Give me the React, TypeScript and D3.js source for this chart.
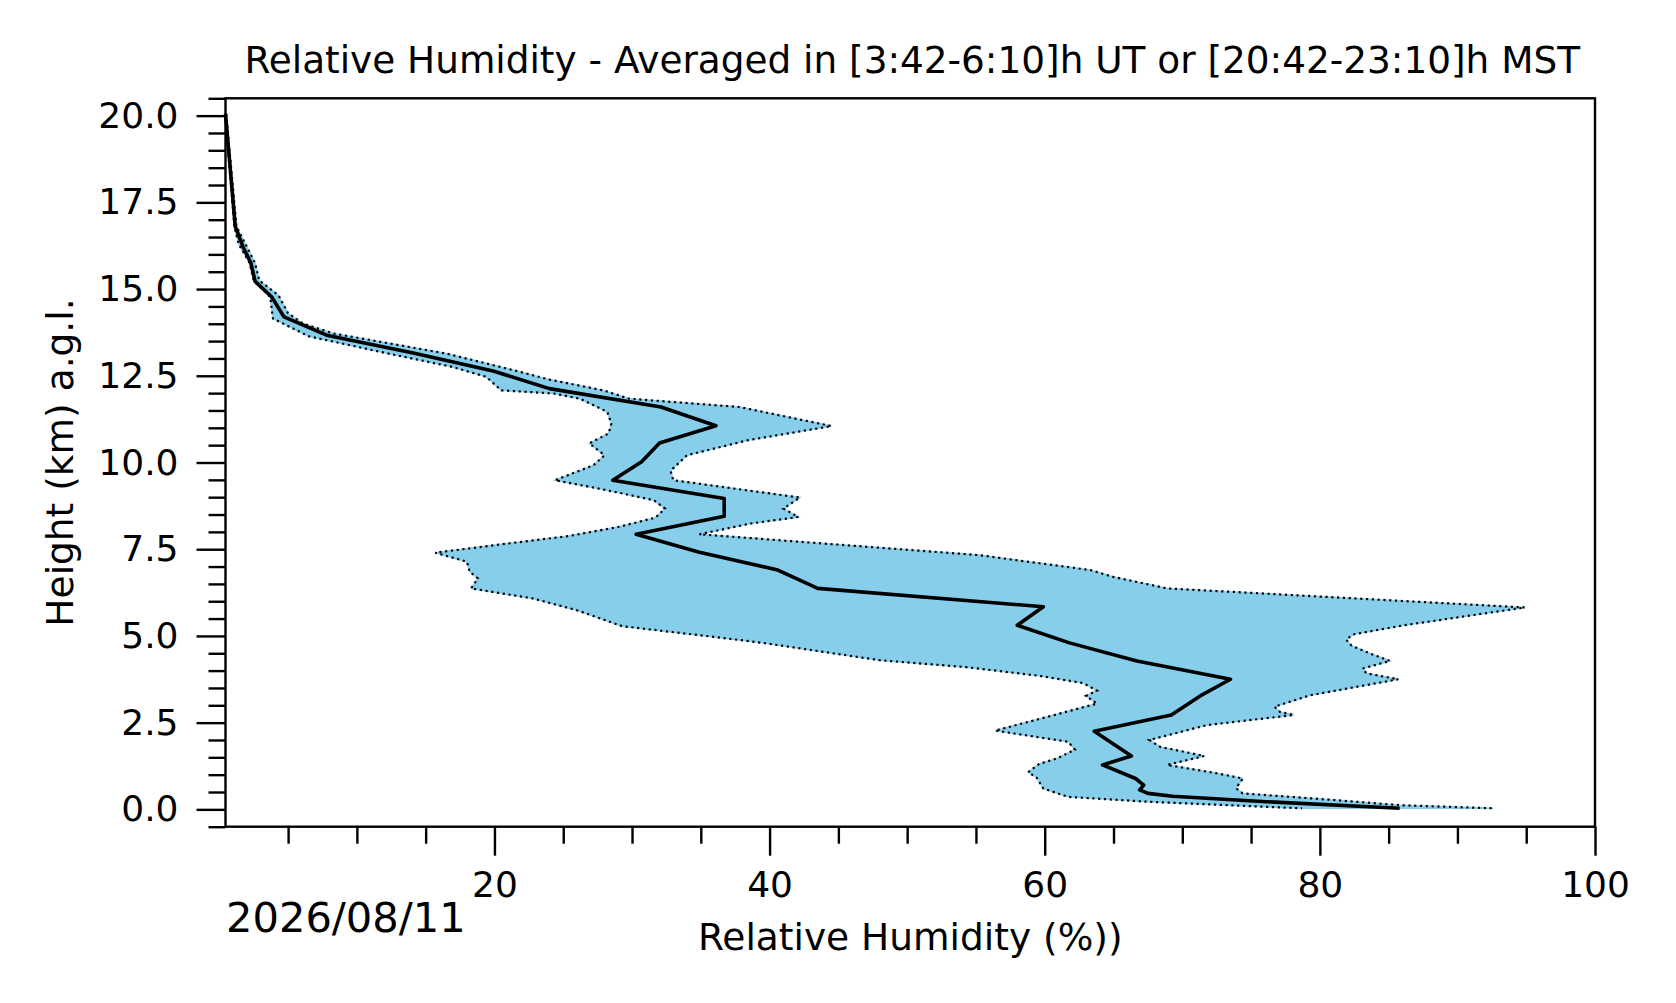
import { useEffect, useRef } from 'react';
import * as d3 from 'd3';

// Mean RH profile: [height km, RH %]
const meanProfile: [number, number][] = [
  [20.05, 0.45], [16.8, 1.16], [16.2, 1.74], [15.75, 2.3], [15.22, 2.6],
  [14.78, 3.8], [14.2, 4.7], [13.67, 7.8], [13.16, 14.1], [12.64, 19.9],
  [12.13, 24.0], [11.6, 32.1], [11.06, 36.1], [10.56, 32.0], [10.02, 30.7],
  [9.49, 28.6], [8.96, 36.7], [8.45, 36.7], [7.93, 30.3], [7.41, 34.9],
  [6.9, 40.6], [6.37, 43.5], [5.84, 59.9], [5.31, 58.0], [4.8, 61.8],
  [4.28, 66.7], [3.75, 73.5], [3.27, 71.3], [2.72, 69.2], [2.25, 63.6],
  [1.54, 66.3], [1.28, 64.2], [0.89, 66.6], [0.7, 67.2], [0.56, 66.9],
  [0.46, 67.5], [0.38, 69.3], [0.22, 76.1], [0.03, 85.8],
];

// mean - std envelope edge
const lowerEdge: [number, number][] = [
  [20.05, 0.42], [16.8, 1.1], [16.3, 1.4], [15.75, 2.2], [15.25, 2.5],
  [14.77, 3.7], [14.15, 3.9], [13.64, 6.5], [13.19, 11.7], [12.75, 17.0],
  [12.47, 19.4], [12.08, 20.5], [11.99, 24.3], [11.84, 26.2], [11.46, 28.2],
  [11.12, 28.5], [10.84, 28.3], [10.55, 26.9], [10.21, 28.0], [9.92, 27.2],
  [9.49, 24.4], [9.2, 28.2], [8.91, 31.6], [8.67, 32.4], [8.41, 31.7],
  [8.14, 29.0], [7.88, 25.4], [7.64, 20.5], [7.4, 15.7], [7.14, 18.0],
  [6.85, 18.2], [6.66, 18.8], [6.37, 18.3], [6.08, 22.8], [5.74, 26.0],
  [5.28, 29.3], [4.97, 36.0], [4.8, 39.5], [4.3, 48.0], [4.1, 54.3],
  [3.85, 59.6], [3.64, 62.8], [3.42, 63.8], [3.27, 63.0], [3.05, 63.8],
  [2.72, 60.7], [2.27, 56.4], [1.95, 61.7], [1.72, 62.2], [1.47, 60.9],
  [1.31, 59.6], [1.07, 58.8], [0.92, 59.4], [0.6, 59.9], [0.36, 61.7],
  [0.22, 67.5], [0.03, 78.7],
];

// mean + std envelope edge
const upperEdge: [number, number][] = [
  [20.05, 0.5], [16.8, 1.25], [16.3, 1.9], [15.75, 2.6], [15.25, 2.9],
  [14.82, 4.3], [14.3, 5.0], [14.0, 6.1], [13.72, 8.3], [13.14, 16.5],
  [12.66, 21.4], [12.39, 24.0], [12.08, 27.9], [11.84, 29.8], [11.6, 37.8],
  [11.05, 44.5], [10.64, 38.4], [10.21, 34.0], [9.76, 32.8], [9.49, 33.0],
  [9.25, 37.4], [8.99, 42.2], [8.67, 41.0], [8.43, 42.1], [8.24, 38.6],
  [7.93, 34.9], [7.33, 55.2], [6.9, 63.3], [6.7, 65.0], [6.37, 68.9],
  [5.82, 94.9], [5.3, 86.0], [5.05, 82.5], [4.9, 81.9], [4.72, 82.3],
  [4.5, 83.6], [4.28, 85.1], [4.06, 83.1], [3.92, 83.4], [3.75, 85.7],
  [3.29, 79.3], [2.96, 76.7], [2.81, 77.1], [2.72, 78.1], [2.43, 71.8],
  [2.0, 67.6], [1.8, 68.4], [1.54, 71.6], [1.28, 68.9], [1.04, 72.5],
  [0.89, 74.4], [0.61, 73.9], [0.46, 74.4], [0.27, 81.0], [0.12, 85.8],
  [0.03, 92.6],
];

const xMajor = [20, 40, 60, 80, 100];
const xMinor = [5, 10, 15, 25, 30, 35, 45, 50, 55, 65, 70, 75, 85, 90, 95];
const yMajor = [0, 2.5, 5, 7.5, 10, 12.5, 15, 17.5, 20];
const yMinor = d3.range(-0.5, 20.51, 0.5).filter((v) => !yMajor.includes(v));

const TITLE = 'Relative Humidity - Averaged in [3:42-6:10]h UT or [20:42-23:10]h MST';
const X_LABEL = 'Relative Humidity (%))';
const Y_LABEL = 'Height (km) a.g.l.';
const DATE_LABEL = '2026/08/11';

const WIDTH = 1676;
const HEIGHT = 1003;
const FONT = 'DejaVu Sans, sans-serif';

export default function App() {
  const svgRef = useRef<SVGSVGElement>(null);

  useEffect(() => {
    if (!svgRef.current) return;
    const left = 225.5;
    const right = 1595;
    const top = 98.3;
    const bottom = 826.7;

    const svg = d3.select(svgRef.current);
    svg.selectAll('*').remove();

    const x = d3.scaleLinear().domain([0.45, 100]).range([left, right]);
    const y = d3.scaleLinear().domain([-0.5, 20.5]).range([bottom, top]);

    const line = d3
      .line<[number, number]>()
      .x((d) => x(d[1]))
      .y((d) => y(d[0]));

    // Envelope fill
    const poly = [...upperEdge, ...lowerEdge.slice().reverse()];
    svg
      .append('path')
      .attr('d', line(poly) + 'Z')
      .attr('fill', '#87ceeb')
      .attr('stroke', '#87ceeb')
      .attr('stroke-width', 1.5);

    // Dotted edges
    [lowerEdge, upperEdge].forEach((edge) => {
      svg
        .append('path')
        .datum(edge)
        .attr('d', line)
        .attr('fill', 'none')
        .attr('stroke', '#000')
        .attr('stroke-width', 2.2)
        .attr('stroke-dasharray', '2.2 3.6');
    });

    // Mean profile
    svg
      .append('path')
      .datum(meanProfile)
      .attr('d', line)
      .attr('fill', 'none')
      .attr('stroke', '#000')
      .attr('stroke-width', 3.6)
      .attr('stroke-linejoin', 'round');

    const styleAxis = (g: d3.Selection<SVGGElement, unknown, null, undefined>) => {
      g.select('.domain').remove();
      g.selectAll('line').attr('stroke', '#000').attr('stroke-width', 2.4);
      g.selectAll('text')
        .attr('fill', '#000')
        .style('font-family', FONT)
        .style('font-size', '36px');
    };

    // X axis
    svg
      .append('g')
      .attr('transform', `translate(0,${bottom})`)
      .call(d3.axisBottom(x).tickValues(xMajor).tickSize(29).tickPadding(16).tickFormat(d3.format('d')))
      .call(styleAxis);
    svg
      .append('g')
      .attr('transform', `translate(0,${bottom})`)
      .call(d3.axisBottom(x).tickValues(xMinor).tickSize(17).tickFormat(() => ''))
      .call(styleAxis);

    // Y axis
    svg
      .append('g')
      .attr('transform', `translate(${left},0)`)
      .call(d3.axisLeft(y).tickValues(yMajor).tickSize(29).tickPadding(18).tickFormat(d3.format('.1f')))
      .call(styleAxis);
    svg
      .append('g')
      .attr('transform', `translate(${left},0)`)
      .call(d3.axisLeft(y).tickValues(yMinor).tickSize(17).tickFormat(() => ''))
      .call(styleAxis);

    // Frame
    svg
      .append('rect')
      .attr('x', left)
      .attr('y', top)
      .attr('width', right - left)
      .attr('height', bottom - top)
      .attr('fill', 'none')
      .attr('stroke', '#000')
      .attr('stroke-width', 2.4);

    const cx = (left + right) / 2;
    svg
      .append('text')
      .attr('x', cx + 2)
      .attr('y', 73.3)
      .attr('text-anchor', 'middle')
      .style('font-family', FONT)
      .style('font-size', '37.4px')
      .text(TITLE);

    svg
      .append('text')
      .attr('x', cx)
      .attr('y', 950)
      .attr('text-anchor', 'middle')
      .style('font-family', FONT)
      .style('font-size', '37.5px')
      .text(X_LABEL);

    svg
      .append('text')
      .attr('transform', `translate(73,${(top + bottom) / 2}) rotate(-90)`)
      .attr('text-anchor', 'middle')
      .style('font-family', FONT)
      .style('font-size', '37.5px')
      .text(Y_LABEL);

    svg
      .append('text')
      .attr('x', 226)
      .attr('y', 931.7)
      .style('font-family', FONT)
      .style('font-size', '41.6px')
      .text(DATE_LABEL);
  }, []);

  return (
    <div style={{ position: 'absolute', left: 0, top: 0, background: '#fff' }}>
      <svg ref={svgRef} width={WIDTH} height={HEIGHT} style={{ display: 'block' }} />
    </div>
  );
}
